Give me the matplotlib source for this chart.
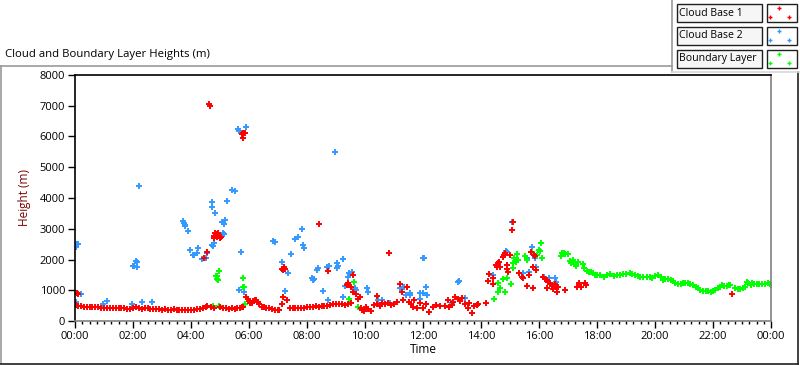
import matplotlib
matplotlib.use('Agg')
import matplotlib.pyplot as plt
from matplotlib.patches import Rectangle
from matplotlib.lines import Line2D
from matplotlib.ticker import MultipleLocator, FuncFormatter

plt.rcParams['font.family'] = ['Open Sans', 'DejaVu Sans']

# Cloud Base 1 (red): time in hours, height in m
cb1_time = [
    0.0, 0.05, 0.1, 0.2, 0.3, 0.4, 0.5, 0.6, 0.7, 0.8, 0.9, 1.0, 1.1, 1.2, 1.3, 1.4, 1.5,
    1.6, 1.7, 1.8, 1.9, 2.0, 2.1, 2.2, 2.3, 2.4, 2.5, 2.6, 2.7, 2.8, 2.9, 3.0, 3.1, 3.2,
    3.3, 3.4, 3.5, 3.6, 3.7, 3.8, 3.9, 4.0, 4.1, 4.2, 4.3, 4.4, 4.5, 4.55,
    4.7, 4.8, 5.0, 5.1, 5.2, 5.3, 5.4, 5.5, 5.6, 5.7, 5.75, 5.8,
    5.9, 5.95, 6.0, 6.05, 6.1, 6.15, 6.2, 6.25, 6.3, 6.35, 6.45, 6.5, 6.6, 6.7, 6.8, 6.9,
    7.0, 7.05, 7.13, 7.17, 7.3, 7.4, 7.5, 7.6, 7.7, 7.8, 7.9, 8.0, 8.1, 8.2, 8.3, 8.4,
    8.5, 8.6, 8.7, 8.8, 8.9, 9.0, 9.1, 9.2, 9.3, 9.4, 9.5,
    0.07, 0.1, 4.45, 4.55, 4.62, 4.65, 4.78, 4.8, 4.82, 4.85, 4.88, 4.9, 4.92, 4.95, 5.0,
    5.05, 5.76, 5.78, 5.8, 5.85, 7.15, 7.2, 7.25, 7.17, 8.43, 8.72,
    9.38, 9.43, 9.5, 9.6, 9.6, 9.7, 9.75, 9.83, 9.85, 9.9, 9.95, 10.0, 10.05, 10.1, 10.2,
    10.3, 10.4, 10.5, 10.6, 10.7, 10.8, 10.9, 11.0, 11.1, 11.2, 11.27, 11.3, 11.45,
    11.5, 11.6, 11.66, 11.7, 11.8, 11.9, 12.0, 12.1, 12.2, 12.35, 12.45, 12.6, 12.76, 12.86,
    12.9, 13.0, 13.03, 13.1, 13.2, 13.28, 13.35, 13.45, 13.55, 13.6, 13.69, 13.75, 13.85,
    13.9, 14.17, 10.4, 10.83,
    14.24, 14.28, 14.41, 14.41, 14.52, 14.55, 14.6, 14.62, 14.66, 14.76, 14.8, 14.83, 14.9,
    14.9, 14.93, 15.0, 15.07, 15.1, 15.31, 15.41, 15.45, 15.58, 15.66, 15.72, 15.79, 15.8,
    15.83, 15.86, 15.9, 16.14, 16.2, 16.28, 16.28, 16.3, 16.38, 16.45, 16.48, 16.55, 16.62,
    16.62, 16.65, 16.9, 17.3, 17.38, 17.45, 17.59, 17.62, 22.65,
]
cb1_height = [
    540, 520, 500, 480, 470, 470, 460, 450, 450, 440, 430, 430, 420, 430, 420, 410, 420,
    430, 410, 400, 390, 410, 440, 430, 400, 420, 410, 400, 390, 400, 380, 370, 380, 360,
    370, 380, 360, 370, 360, 360, 350, 370, 360, 380, 390, 410, 450, 480,
    440, 430, 460, 420, 410, 400, 420, 400, 420, 420, 440, 450,
    780, 720, 660, 600, 580, 640, 680, 670, 620, 560, 470, 440, 420, 430, 400, 360,
    350, 360, 550, 780, 680, 420, 420, 410, 430, 420, 430, 450, 460, 450, 480, 470,
    490, 500, 480, 520, 550, 540, 560, 550, 520, 540, 580,
    910, 880, 2050, 2250, 7050, 6980, 2780, 2700, 2850, 2820, 2740, 2800, 2860, 2760, 2700,
    2740, 6080, 5950, 6100, 6120, 1700, 1760, 1680, 1650, 3150, 1620,
    1170, 1240, 1100, 1500, 950, 880, 720, 780, 420, 360, 330, 400, 450, 380, 330,
    520, 560, 500, 580, 540, 600, 520, 560, 620, 1200, 940, 680, 1100,
    620, 560, 450, 680, 420, 600, 420, 540, 290, 450, 520, 480, 500, 680,
    450, 520, 620, 780, 700, 640, 750, 540, 420, 600, 260, 480, 520,
    560, 590, 800, 2210,
    1300, 1530, 1400, 1200, 1820, 1760, 1890, 1920, 1760, 2080, 2150, 2210, 1820,
    1690, 1590, 2150, 2960, 3220, 1560, 1430, 1400, 1140, 1500, 2240, 1760, 1070,
    2150, 2110, 1660, 1430, 1380, 1330, 1070, 1270, 1240, 1140, 1040, 1200, 1100,
    940, 1100, 1000, 1100, 1240, 1100, 1240, 1170, 880,
]

# Cloud Base 2 (blue)
cb2_time = [
    0.02, 0.05, 0.08, 0.1, 0.03, 0.2, 0.95, 1.1, 1.96, 2.0, 2.05, 2.1, 2.13, 2.15, 2.2,
    2.3, 2.65, 3.72, 3.75, 3.78, 3.8, 3.9, 3.97, 4.07, 4.1, 4.2, 4.24, 4.38, 4.5, 4.55,
    4.72, 4.73, 4.83, 4.72, 4.77, 4.8, 5.07, 5.14, 5.17, 5.1, 5.15, 5.24, 5.4, 5.52,
    5.62, 5.64, 5.9, 5.72, 5.66, 5.83, 6.83, 6.88, 7.45, 7.59, 7.7, 7.83, 7.86, 7.9,
    7.13, 7.35, 7.24, 8.17, 8.21, 8.25, 8.34, 8.38, 8.69, 8.75, 9.03, 9.03, 9.08, 9.24,
    8.97, 8.55, 8.72, 9.45, 9.41, 9.55, 9.31, 9.66, 9.7, 9.24, 10.07, 10.1, 10.45, 10.6,
    10.86, 11.2, 11.3, 11.35, 11.4, 11.45, 11.55, 11.55, 11.9, 11.9, 12.0, 12.0, 12.05,
    12.1, 12.14, 13.0, 13.2, 13.24, 13.45, 14.41, 14.86, 14.88, 14.9, 15.07, 15.45, 15.6,
    15.66, 15.76, 15.86, 15.9, 16.17, 16.34, 16.55, 16.6,
]
cb2_height = [
    2420, 2460, 2500, 2520, 620, 870, 550, 650, 550, 1800, 1780, 1950, 1920, 1740, 4390,
    620, 620, 3250, 3180, 3120, 3080, 2930, 2300, 2140, 2140, 2200, 2370, 2020, 2050, 2200,
    3870, 3700, 3500, 2480, 2440, 2530, 3220, 3150, 3280, 2860, 2840, 3900, 4260, 4230,
    6240, 6180, 6310, 2240, 1000, 950, 2600, 2560, 2180, 2670, 2730, 2990, 2470, 2380,
    1920, 1560, 970, 1400, 1330, 1350, 1660, 1720, 1760, 1790, 1890, 1720, 1800, 2020,
    5500, 970, 680, 1560, 1430, 1590, 1140, 1070, 1000, 780, 1070, 940, 680, 680,
    590, 1070, 1100, 1100, 850, 1100, 850, 910, 720, 900, 2050, 900, 2040,
    1100, 850, 590, 1270, 1300, 750, 1500, 2280, 2240, 1820, 3220, 1560, 2050,
    1600, 2400, 2050, 1760, 1430, 1400, 1400, 1270,
]

# Boundary Layer (green)
bl_time = [
    4.75, 4.97, 4.85, 4.88, 4.9, 4.92, 4.96, 5.79, 5.78, 5.82, 5.86, 9.45, 9.62, 9.76,
    14.45, 14.6, 14.66, 14.59, 14.83, 14.76, 14.9, 15.03, 15.1, 15.1, 15.14, 15.2, 15.24,
    15.28, 15.52, 15.6, 15.76, 15.93, 16.0, 16.03, 16.07, 16.1,
    16.75, 16.8, 16.85, 16.9, 17.0, 17.07, 17.12, 17.18, 17.22, 17.28, 17.35, 17.5, 17.55,
    17.65, 17.72, 17.8, 17.86, 17.93, 18.0, 18.1, 18.24, 18.35, 18.45, 18.58, 18.7, 18.8,
    18.9, 19.0, 19.14, 19.22, 19.3, 19.4, 19.48, 19.6, 19.72, 19.82, 19.9, 20.0, 20.1,
    20.2, 20.28, 20.36, 20.45, 20.55, 20.62, 20.7, 20.8, 20.88, 20.97, 21.05, 21.14, 21.22,
    21.31, 21.4, 21.48, 21.56, 21.66, 21.75, 21.83, 21.92, 22.0, 22.08, 22.17, 22.23, 22.3,
    22.38, 22.48, 22.55, 22.6, 22.76, 22.85, 22.93, 23.02, 23.1, 23.17, 23.22, 23.3, 23.34,
    23.42, 23.5, 23.6, 23.7, 23.8, 23.9, 23.95, 24.0,
]
bl_height = [
    490, 490, 1460, 1380, 1450, 1330, 1640, 1400, 1110, 1100, 550, 720, 1270, 450,
    720, 940, 1070, 1240, 940, 1370, 1400, 1200, 1720, 1890, 2050, 1920, 2180,
    1990, 2110, 1980, 2240, 2150, 2310, 2280, 2540, 2050,
    2100, 2200, 2210, 2180, 2180, 1950, 1900, 1980, 1850, 1800, 1920, 1850, 1720,
    1620, 1580, 1600, 1560, 1500, 1480, 1500, 1430, 1480, 1530, 1470, 1500, 1490,
    1530, 1520, 1560, 1540, 1500, 1470, 1430, 1440, 1430, 1420, 1400, 1450, 1500,
    1420, 1330, 1350, 1370, 1320, 1300, 1240, 1200, 1210, 1240, 1250, 1240, 1200,
    1170, 1120, 1070, 1020, 970, 960, 970, 950, 970, 1000, 1070, 1120, 1170,
    1150, 1140, 1160, 1170, 1070, 1030, 1040, 1060, 1100, 1270, 1240, 1160, 1240,
    1210, 1200, 1190, 1200, 1210, 1240, 1190, 1170,
]

series_names = ['Cloud Base 1', 'Cloud Base 2', 'Boundary Layer']
series_colors = ['#ff0000', '#3399ff', '#00ff00']

W, H = 800, 365
fig = plt.figure(figsize=(W / 100, H / 100), dpi=100)
fig.patch.set_facecolor('white')


def fx(x):
    return x / W


def fy(y):
    return 1 - y / H


ax = fig.add_axes([fx(75), fy(321), 696 / W, 246 / H])
mk = dict(linestyle='none', marker='+', markersize=3.7, markeredgewidth=1.4)
ax.plot(cb2_time, cb2_height, color=series_colors[1], **mk)
ax.plot(bl_time, bl_height, color=series_colors[2], **mk)
ax.plot(cb1_time, cb1_height, color=series_colors[0], **mk)

ax.set_xlim(0, 24)
ax.set_ylim(0, 8000)
ax.xaxis.set_major_locator(MultipleLocator(2))
ax.xaxis.set_minor_locator(MultipleLocator(0.25))
ax.yaxis.set_major_locator(MultipleLocator(1000))
ax.xaxis.set_major_formatter(FuncFormatter(lambda v, p: '%02d:00' % (int(round(v)) % 24)))
ax.tick_params(axis='both', which='major', direction='out', length=5, width=1,
               labelsize=8, colors='black', pad=2)
ax.tick_params(axis='x', which='minor', direction='out', length=2.5, width=1, colors='black')
for s in ['left', 'top']:
    ax.spines[s].set_color('black')
    ax.spines[s].set_linewidth(1.2)
for s in ['right', 'bottom']:
    ax.spines[s].set_color('#808080')
    ax.spines[s].set_linewidth(1.2)
ax.set_xlabel('Time', fontsize=8.5, labelpad=1)
ax.set_ylabel('Height (m)', fontsize=8.5, color='#7a0000', labelpad=6)

# panel frame and title
fig.add_artist(Line2D([fx(0), fx(672)], [fy(66), fy(66)], color='#9a9a9a', lw=1.2))
fig.add_artist(Line2D([fx(0.5), fx(0.5)], [fy(66), fy(363)], color='#9a9a9a', lw=1.2))
fig.add_artist(Line2D([fx(0), fx(798)], [fy(363.5), fy(363.5)], color='#202020', lw=1.2))
fig.add_artist(Line2D([fx(798), fx(798)], [fy(72), fy(363.5)], color='#202020', lw=1.2))
fig.add_artist(Line2D([fx(672), fx(672)], [fy(0), fy(72)], color='#9a9a9a', lw=1.2))
fig.add_artist(Line2D([fx(672), fx(800)], [fy(72), fy(72)], color='#d8d8d8', lw=1.2))
fig.text(fx(5), fy(55), 'Cloud and Boundary Layer Heights (m)', fontsize=8.2,
         ha='left', va='center')

# legend boxes
row_tops = [4, 27, 50]
for name, color, top in zip(series_names, series_colors, row_tops):
    fig.add_artist(Rectangle((fx(677), fy(top + 18)), 85 / W, 18 / H,
                             facecolor='#f6f6f6', edgecolor='#202020', lw=1.0))
    fig.text(fx(679), fy(top + 9), name, fontsize=7.6, ha='left', va='center')
    fig.add_artist(Rectangle((fx(767), fy(top + 18)), 30 / W, 18 / H,
                             facecolor='white', edgecolor='#202020', lw=1.0))
    fig.add_artist(Line2D([fx(779), fx(770), fx(789)], [fy(top + 4), fy(top + 13), fy(top + 13)],
                          linestyle='none', marker='+', markersize=3.2,
                          markeredgewidth=1.0, color=color))

fig.savefig('out.png', dpi=100, facecolor='white')
